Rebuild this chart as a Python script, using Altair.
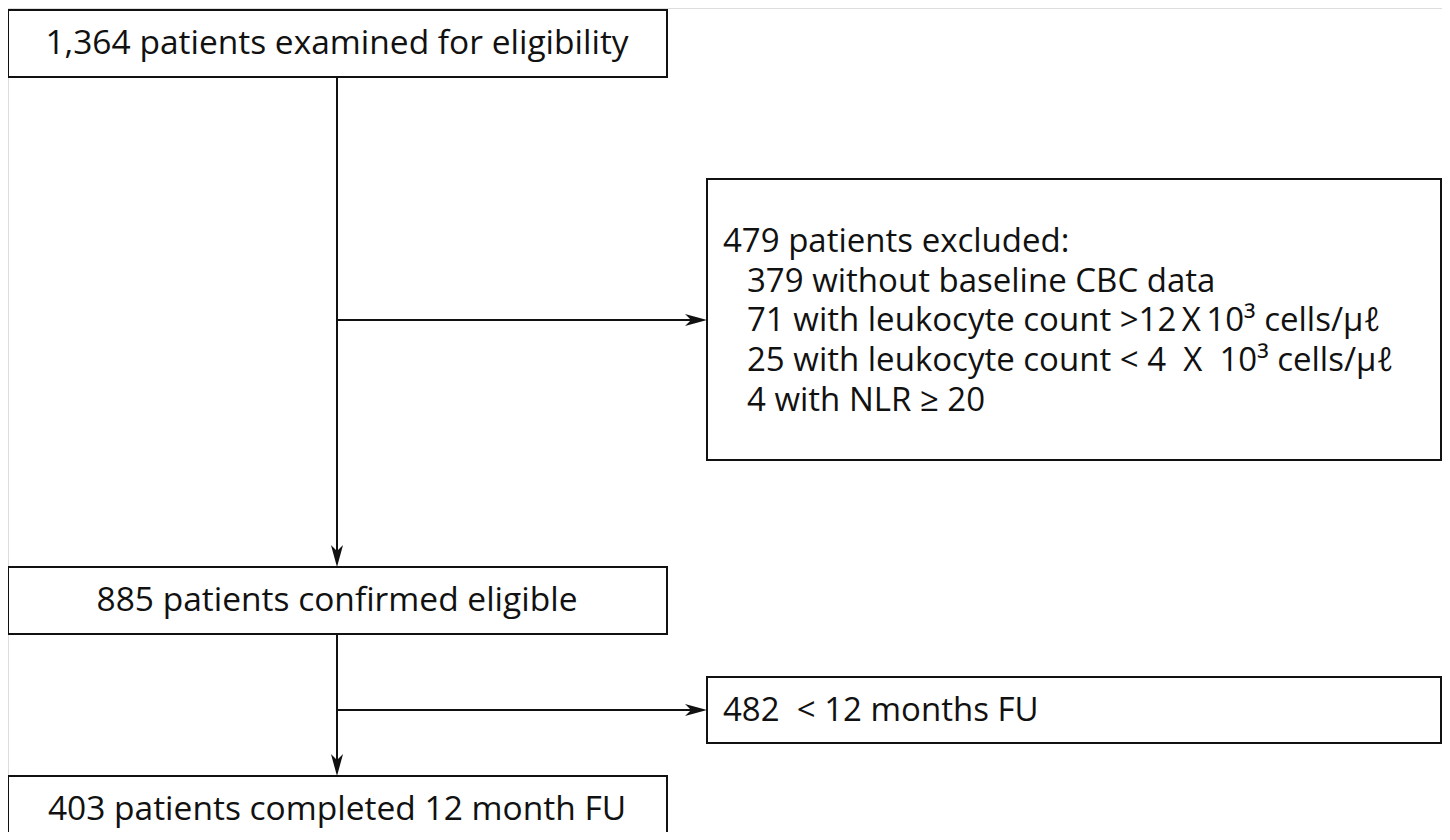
import altair as alt
import pandas as pd

# ---- content ----
main_labels = [
    "1,364 patients examined for eligibility",
    "885 patients confirmed eligible",
    "403 patients completed 12 month FU",
]
excl_lines = [
    "479 patients excluded:",
    "379 without baseline CBC data",
    "71 with leukocyte count >12\u2009X\u200910\u00b3 cells/\u03bc\u2113",
    "25 with leukocyte count < 4\u00a0\u00a0X\u00a0\u00a010\u00b3 cells/\u03bc\u2113",
    "4 with NLR \u2265 20",
]
fu_label = ["482\u00a0\u00a0< 12 months FU"]

# ---- layout (pixel space of the figure) ----
main_x = (8, 667)
main_y = [(10, 77), (567, 634), (776, 846)]
side_x = (707, 1441)
side_y = [(179, 460), (677, 743)]
trunk_x = 337
branch_y = [320, 710]
excl_text_y = [242, 282, 321, 361, 401]
excl_text_x = [723, 747, 747, 747, 747]

boxes = pd.DataFrame(
    [dict(x=main_x[0], x2=main_x[1], y=a, y2=b) for a, b in main_y]
    + [dict(x=side_x[0], x2=side_x[1], y=a, y2=b) for a, b in side_y]
)

center_text = pd.DataFrame(
    dict(x=[trunk_x] * 3, y=[(a + b) / 2 for a, b in main_y[:2]] + [810], t=main_labels)
)
left_text = pd.DataFrame(
    dict(x=excl_text_x + [723], y=excl_text_y + [711], t=excl_lines + fu_label)
)

lines = pd.DataFrame(
    [
        dict(x=trunk_x, x2=trunk_x, y=main_y[0][1], y2=main_y[1][0] - 6),
        dict(x=trunk_x, x2=trunk_x, y=main_y[1][1], y2=main_y[2][0] - 6),
        dict(x=trunk_x, x2=side_x[0] - 6, y=branch_y[0], y2=branch_y[0]),
        dict(x=trunk_x, x2=side_x[0] - 6, y=branch_y[1], y2=branch_y[1]),
    ]
)

arrows = pd.DataFrame(
    [
        dict(x=trunk_x, y=main_y[1][0], a=90),
        dict(x=trunk_x, y=main_y[2][0], a=90),
        dict(x=side_x[0], y=branch_y[0], a=0),
        dict(x=side_x[0], y=branch_y[1], a=0),
    ]
)

W, H = 1434, 824
xs = alt.Scale(domain=[8, 8 + W], range=[0, W])
ys = alt.Scale(domain=[8, 8 + H], range=[0, H])
X = lambda f="x": alt.X(f, type="quantitative", scale=xs, axis=None)
Y = lambda f="y": alt.Y(f, type="quantitative", scale=ys, axis=None)

FONT = "Open Sans"
FS = 33
INK = "#111111"

rects = alt.Chart(boxes).mark_rect(fill="white", stroke=INK, strokeWidth=2).encode(
    x=X(), x2="x2", y=Y(), y2="y2"
)
rules = alt.Chart(lines).mark_rule(color=INK, strokeWidth=2).encode(
    x=X(), x2="x2", y=Y(), y2="y2"
)
heads = alt.Chart(arrows).mark_point(
    shape="M0,0 L-2,-0.55 L-1.45,0 L-2,0.55 Z",
    size=484,
    filled=True,
    color=INK,
    opacity=1,
    strokeWidth=0,
).encode(x=X(), y=Y(), angle=alt.Angle("a:Q", scale=None))

ctext = alt.Chart(center_text).mark_text(
    font=FONT, fontSize=33.5, color=INK, align="center", baseline="middle"
).encode(x=X(), y=Y(), text="t:N")
ltext = alt.Chart(left_text).mark_text(
    font=FONT, fontSize=FS, color=INK, align="left", baseline="middle"
).encode(x=X(), y=Y(), text="t:N")

chart = (
    alt.layer(rules, rects, heads, ctext, ltext)
    .properties(width=W, height=H, autosize=alt.AutoSizeParams(type="none"), padding=0)
    .configure_view(stroke="transparent", strokeWidth=0)
    .configure(background="transparent")
)

chart.save("out.html", embed_options={"renderer": "svg", "actions": False})
